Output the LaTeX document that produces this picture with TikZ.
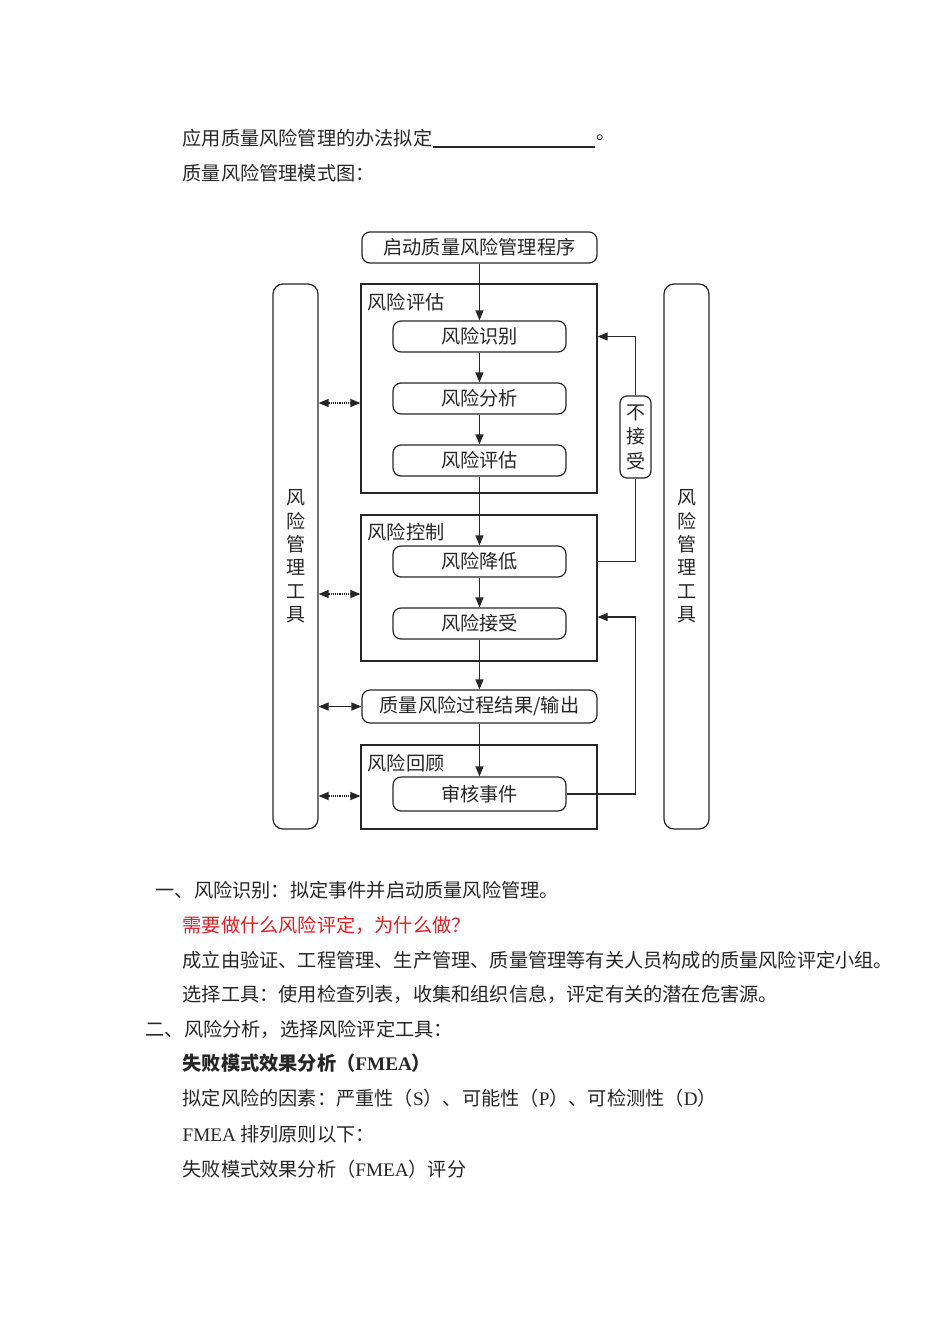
\documentclass[tikz,border=0pt]{standalone}
\usepackage{fontspec}
\setmainfont{Liberation Serif}
\newfontfamily\cjk{Noto Sans CJK SC}
\usetikzlibrary{positioning, calc, arrows.meta}

\definecolor{warnred}{RGB}{225,30,35}

\tikzset{
  stepbox/.style={draw, rounded corners=8pt, minimum width=173pt, minimum height=31pt, inner sep=0pt},
  stagebox/.style={draw, minimum width=236pt, inner sep=0pt},
  toolbox/.style={draw, rounded corners=10pt, minimum width=45pt, minimum height=545pt, inner sep=0pt,
    align=center, font=\cjk\fontsize{19}{23.4}\selectfont},
  flow/.style={->},
  toolarrow/.style={<->, densely dotted},
  para/.style={anchor=west, inner sep=0pt},
}

\begin{document}
\begin{tikzpicture}[x=1pt, y=-1pt, line width=1.2pt, color=black!85,
    >={Triangle[length=10pt,width=8pt]}, font=\cjk\fontsize{19.2}{23}\selectfont]
        \useasboundingbox (0,0) rectangle (950,1344);

        % text above the chart
        \node[para] (q1) at (182,138) {应用质量风险管理的办法拟定};
        \draw (q1.east |- 0,147) -- ++(162,0) coordinate (ul);
        \node[para] at ([xshift=1pt]ul |- q1) {。};
        \node[para] at (182,173) {质量风险管理模式图：};

        % the chart
        \node[stepbox, minimum width=235pt] (start) at (479.5,247.5) {启动质量风险管理程序};

        \node[stagebox, minimum height=209pt] (assess) at (479,388.5) {};
        \node[para] at (367,302) {风险评估};
        \node[stepbox] (ident) at (479.5,336.5) {风险识别};
        \node[stepbox] (analy) at (479.5,398.5) {风险分析};
        \node[stepbox] (evalu) at (479.5,460.5) {风险评估};

        \node[stagebox, minimum height=146pt] (ctrl) at (479,588) {};
        \node[para] at (367,532) {风险控制};
        \node[stepbox] (reduce) at (479.5,561.5) {风险降低};
        \node[stepbox] (accept) at (479.5,623.5) {风险接受};

        \node[stepbox, minimum width=235pt, minimum height=33pt] (output) at (479.5,706.5) {质量风险过程结果/输出};

        \node[stagebox, minimum height=84pt] (review) at (479,787) {};
        \node[para] at (367,763) {风险回顾};
        \node[stepbox, minimum height=34pt] (audit) at (479.5,794) {审核事件};

        \node[toolbox] (ltool) at (295.5,556.5) {风\\险\\管\\理\\工\\具};
        \node[toolbox] (rtool) at (686.5,556.5) {风\\险\\管\\理\\工\\具};

        \node[draw, rounded corners=7pt, minimum width=31pt, minimum height=82pt, inner sep=0pt,
          align=center, font=\cjk\fontsize{19}{24.5}\selectfont] (noacc) at (635.5,437) {不\\接\\受};

        % main flow
        \draw[flow] (start) -- (ident);
        \draw[flow] (ident) -- (analy);
        \draw[flow] (analy) -- (evalu);
        \draw[flow] (evalu) -- (reduce);
        \draw[flow] (reduce) -- (accept);
        \draw[flow] (accept) -- (output);
        \draw[flow] (output) -- (audit);

        % feedback loops
        \draw (ctrl.east |- reduce) -| (noacc.south);
        \draw[flow] (noacc.north) |- (assess.east |- ident);
        \coordinate (fb) at (635.5,617);
        \draw[flow] (audit.east) -| (fb) -- (ctrl.east |- fb);

        % tools
        \draw[toolarrow] (ltool.east |- 0,403) -- (assess.west |- 0,403);
        \draw[toolarrow] (ltool.east |- 0,594) -- (ctrl.west |- 0,594);
        \draw[<->] (ltool.east |- output) -- (output.west);
        \draw[toolarrow] (ltool.east |- 0,796) -- (review.west |- 0,796);

        % text below the chart
        \node[para] at (155,890) {一、风险识别：拟定事件并启动质量风险管理。};
        \node[para, text=warnred] at (182,925) {需要做什么风险评定，为什么做？};
        \node[para] at (182,960) {成立由验证、工程管理、生产管理、质量管理等有关人员构成的质量风险评定小组。};
        \node[para] at (182,994) {选择工具：使用检查列表，收集和组织信息，评定有关的潜在危害源。};
        \node[para] at (145,1029) {二、风险分析，选择风险评定工具：};
        \node[para, font=\cjk\fontsize{19.2}{23}\selectfont\bfseries] at (182,1063) {失败模式效果分析（{\rmfamily FMEA}）};
        \node[para] at (182,1098) {拟定风险的因素：严重性（{\rmfamily S}）、可能性（{\rmfamily P}）、可检测性（{\rmfamily D}）};
        \node[para] at (182,1134) {{\rmfamily FMEA} 排列原则以下：};
        \node[para] at (182,1169) {失败模式效果分析（{\rmfamily FMEA}）评分};
    \end{tikzpicture}
\end{document}
